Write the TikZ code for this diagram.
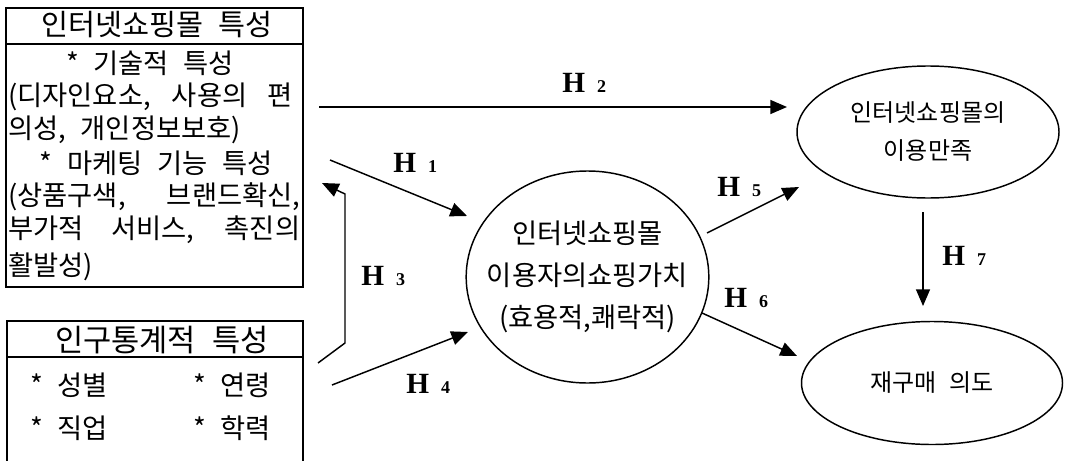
\documentclass[tikz,border=0pt]{standalone}
\usepackage{fontspec}
\newfontfamily\kr[WordSpace=2.4]{Noto Sans CJK KR}
\newfontfamily\lab{Liberation Serif}
\usetikzlibrary{shapes.geometric,arrows.meta}
\begin{document}
\begin{tikzpicture}[x=0.75pt,y=-0.75pt,
  boxline/.style={line width=1.2pt},
  conn/.style={line width=1.1pt,-{Triangle[length=12.5pt,width=10.5pt]}},
  oval/.style={draw,ellipse,line width=1.1pt,inner sep=0pt},
  otxt/.style={inner sep=0pt,align=center},
  ttl/.style={inner sep=0pt,font=\kr\fontsize{22}{26}\selectfont},
  txt/.style={inner sep=0pt,font=\kr\fontsize{20.5}{24}\selectfont},
  hlab/.style={inner sep=0pt,anchor=base west}]
\useasboundingbox (0,0) rectangle (1066,460);
% box 1
\draw[boxline] (6,8) rectangle (303,287);
\draw[boxline] (6,44) -- (303,44);
\node[ttl] (t1) at (157,25) {인터넷쇼핑몰 특성};
\node[txt] (l1) at (150,63) {* 기술적 특성};
\node[txt,anchor=west] (l2) at (8,97) {\makebox[213pt][s]{(디자인요소, 사용의 편}};
\node[txt,anchor=west] (l3) at (8,130) {의성, 개인정보보호)};
\node[txt] (l4) at (156,163) {* 마케팅 기능 특성};
\node[txt,anchor=west] (l5) at (8,197) {\makebox[219pt][s]{(상품구색, 브랜드확신,}};
\node[txt,anchor=west] (l6) at (8,230) {\makebox[219pt][s]{부가적 서비스, 촉진의}};
\node[txt,anchor=west] (l7) at (8,267) {활발성)};
% box 2
\draw[boxline] (7,462) -- (7,321) -- (303,321) -- (303,462);
\draw[boxline] (7,357) -- (303,357);
\node[ttl,font=\kr\fontsize{23}{26}\selectfont] (t2) at (162,340) {인구통계적 특성};
\node[txt,anchor=west] (d1) at (30,385) {* 성별};
\node[txt,anchor=west] (d2) at (193,385) {* 연령};
\node[txt,anchor=west] (d3) at (30,428) {* 직업};
\node[txt,anchor=west] (d4) at (193,428) {* 학력};
% ellipses
\node[oval,minimum width=182pt,minimum height=159pt] (val) at (587.5,277) {};
\node[otxt,font=\kr\fontsize{20.5}{31.5}\selectfont] (valt) at (val.center) {인터넷쇼핑몰\\이용자의쇼핑가치\\(효용적,쾌락적)};
\node[oval,minimum width=196.5pt,minimum height=99pt] (sat) at (928,132) {};
\node[otxt,font=\kr\fontsize{18}{28.5}\selectfont] (satt) at (sat.center) {인터넷쇼핑몰의\\이용만족};
\node[oval,minimum width=195.75pt,minimum height=92.25pt] (rep) at (932,383) {};
\node[otxt,font=\kr\fontsize{18}{21}\selectfont] (rept) at (rep.center) {재구매 의도};
% connector ends
\coordinate (a1) at (330,160); \coordinate (b1) at (467,216);
\coordinate (a2) at (319,107); \coordinate (b2) at (787,107);
\coordinate (a3) at (318,363); \coordinate (b3) at (322,183);
\coordinate (a4) at (332,385); \coordinate (b4) at (468,332);
\coordinate (a5) at (707,233); \coordinate (b5) at (799,187);
\coordinate (a6) at (702,313); \coordinate (b6) at (797,356);
\coordinate (a7) at (923,212); \coordinate (b7) at (923,306);
\draw[conn] (a1) -- (b1);
\draw[conn] (a2) -- (b2);
\draw[conn] (a3) -- (345,343) -- (345,194) -- (b3);
\draw[conn] (a4) -- (b4);
\draw[conn] (a5) -- (b5);
\draw[conn] (a6) -- (b6);
\draw[conn] (a7) -- (b7);
% labels
\newcommand{\hl}[1]{{\lab\bfseries\fontsize{22}{22}\selectfont H}\hspace{9pt}{\lab\bfseries\fontsize{13.5}{13.5}\selectfont #1}}
\node[hlab] (h1) at (393,172) {\hl{1}};
\node[hlab] (h2) at (562,92) {\hl{2}};
\node[hlab] (h3) at (361,285) {\hl{3}};
\node[hlab] (h4) at (406,393) {\hl{4}};
\node[hlab] (h5) at (717,196) {\hl{5}};
\node[hlab] (h6) at (724,307) {\hl{6}};
\node[hlab] (h7) at (942,265) {\hl{7}};
\end{tikzpicture}
\end{document}
